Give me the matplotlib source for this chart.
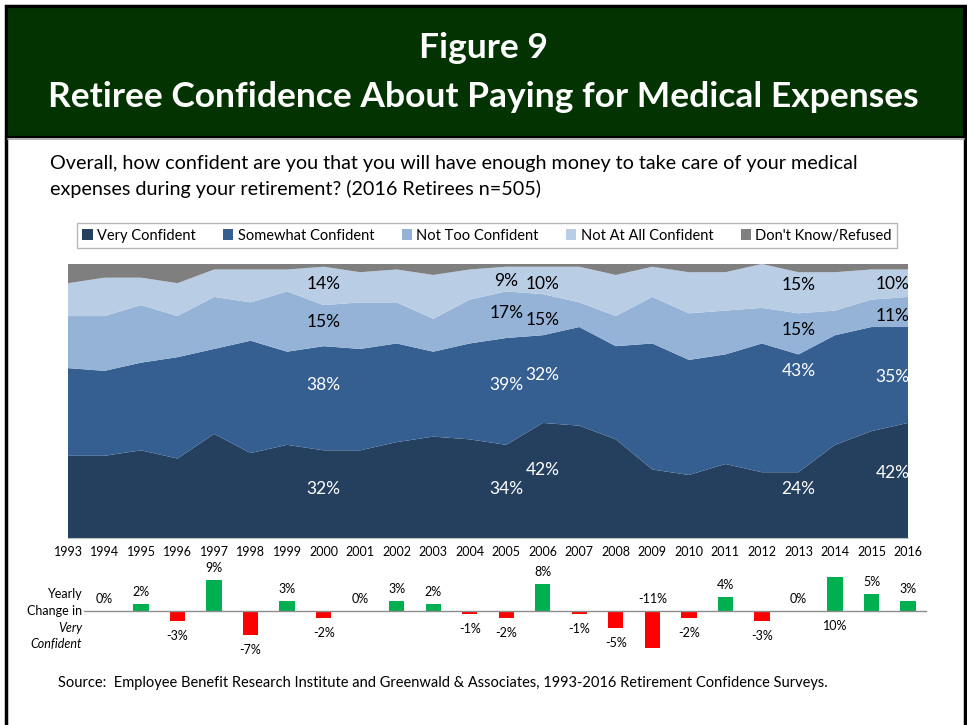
import matplotlib.pyplot as plt
import numpy as np
from matplotlib.patches import Rectangle, Patch

plt.rcParams['font.family'] = ['Lato', 'DejaVu Sans']

years = list(range(1993, 2017))
very = [30, 30, 32, 29, 38, 31, 34, 32, 32, 35, 37, 36, 34, 42, 41, 36, 25, 23, 27, 24, 24, 34, 39, 42]
somewhat = [32, 31, 32, 37, 31, 41, 34, 38, 37, 36, 31, 35, 39, 32, 36, 34, 46, 42, 40, 47, 43, 40, 38, 35]
not_too = [19, 20, 21, 15, 19, 14, 22, 15, 17, 15, 12, 16, 17, 15, 9, 11, 17, 17, 16, 13, 15, 9, 10, 11]
not_at_all = [12, 14, 10, 12, 10, 12, 8, 14, 11, 12, 16, 11, 9, 10, 13, 15, 11, 15, 14, 16, 15, 14, 11, 10]
dont_know = [7, 5, 5, 7, 2, 2, 2, 1, 3, 2, 4, 2, 1, 1, 1, 4, 1, 3, 3, 0, 3, 3, 2, 2]
series_names = ['Very Confident', 'Somewhat Confident', 'Not Too Confident',
                'Not At All Confident', "Don't Know/Refused"]
labeled_years = [2000, 2005, 2006, 2013, 2016]

change_years = years[1:]
change = [0, 2, -3, 9, -7, 3, -2, 0, 3, 2, -1, -2, 8, -1, -5, -11, -2, 4, -3, 0, 10, 5, 3]
flipped_labels = [2009, 2014]  # labels drawn on the other side of the axis

colors = ['#253F5F', '#355F91', '#95B3D7', '#B9CDE5', '#7F7F7F']
W, H = 967, 725


def fx(x):
    return x / W


def fy(y):
    return 1 - y / H


fig = plt.figure(figsize=(W / 100, H / 100), dpi=100)
fig.patch.set_facecolor('white')

# frame and title banner
fig.add_artist(Rectangle((fx(6), fy(740)), fx(959), 734 / H, transform=fig.transFigure,
                         facecolor='none', edgecolor='black', linewidth=2.5))
fig.add_artist(Rectangle((fx(7), fy(137)), fx(957), 130 / H, transform=fig.transFigure,
                         facecolor='#033300', edgecolor='black', linewidth=1.5))
fig.add_artist(plt.Line2D([fx(8), fx(964)], [fy(139), fy(139)], transform=fig.transFigure,
                          color='#A6A6A6', linewidth=1.2))
fig.text(0.5, fy(48), 'Figure 9', color='white', fontsize=25.5, fontweight='bold',
         ha='center', va='center')
fig.text(0.5, fy(97), 'Retiree Confidence About Paying for Medical Expenses', color='white',
         fontsize=25.5, fontweight='bold', ha='center', va='center')

fig.text(fx(50), fy(164), 'Overall, how confident are you that you will have enough money to take care of your medical',
         fontsize=14.2, ha='left', va='center')
fig.text(fx(50), fy(189), 'expenses during your retirement? (2016 Retirees n=505)',
         fontsize=14.2, ha='left', va='center')

# stacked area
ax = fig.add_axes([fx(68), fy(538), (908 - 68) / W, (538 - 264) / H])
stack = [very, somewhat, not_too, not_at_all, dont_know]
ax.stackplot(years, *stack, colors=colors, linewidth=0)
ax.set_xlim(1993, 2016)
ax.set_ylim(0, 100)
for s in ['top', 'right', 'left']:
    ax.spines[s].set_visible(False)
ax.spines['bottom'].set_color('#BFBFBF')
ax.set_yticks([])
ax.set_xticks(years)
ax.set_xticklabels([str(y) for y in years], fontsize=9)
ax.tick_params(axis='x', length=0, pad=6)

label_y = {
    2000: [18, 55.8, 78.8, 92.6],
    2005: [18, 56, 82, 93.8],
    2006: [24.7, 59.4, 79.5, 92.6],
    2013: [18, 61, 76, 92.3],
    2016: [23.6, 58.7, 81, 92.6],
}
for yr in labeled_years:
    i = years.index(yr)
    for k in range(4):
        val = stack[k][i]
        ha = 'right' if yr == years[-1] else 'center'
        xpos = yr + 0.05 if yr == years[-1] else yr
        ax.text(xpos, label_y[yr][k], f'{val}%', fontsize=12.5, ha=ha, va='center',
                color='white' if k < 2 else 'black')

# legend
handles = [Patch(facecolor=c, edgecolor='none') for c in colors]
leg = fig.legend(handles, series_names, loc='lower left', ncol=5, mode='expand',
                 bbox_to_anchor=(fx(70), fy(255), (904 - 70) / W, 26 / H),
                 fontsize=10.5, frameon=True, fancybox=False, handlelength=0.7,
                 handleheight=0.7, handletextpad=0.3, borderpad=0.35, columnspacing=1.5)
leg.get_frame().set_edgecolor('#A6A6A6')
leg.get_frame().set_linewidth(1)

# yearly change bars
ax2 = fig.add_axes([fx(68), fy(660), (908 - 68) / W, (660 - 560) / H])
ax2.set_xlim(1993, 2016)
ax2.set_ylim(-(660 - 611) / 3.4, (611 - 560) / 3.4)
ax2.axis('off')
bar_colors = ['#00B050' if v > 0 else '#FF0000' for v in change]
ax2.bar(change_years, change, width=0.42, color=bar_colors, clip_on=False)
ax2.plot([1993.45, 2016.5], [0, 0], color='#8C8C8C', linewidth=1, clip_on=False)
for yr, v in zip(change_years, change):
    up = v >= 0
    if yr in flipped_labels:
        up = not up
        base = 0
    else:
        base = v
    off = 12 if up else -15
    ax2.annotate(f'{v}%', (yr, base), xytext=(0, off), textcoords='offset pixels',
                 ha='center', va='center', fontsize=9, annotation_clip=False)

fig.text(fx(82), fy(594), 'Yearly', fontsize=9, ha='right', va='center')
fig.text(fx(82), fy(611), 'Change in', fontsize=9, ha='right', va='center')
fig.text(fx(82), fy(628), 'Very', fontsize=9, ha='right', va='center', style='italic')
fig.text(fx(82), fy(644), 'Confident', fontsize=9, ha='right', va='center', style='italic')

fig.text(fx(58), fy(683), 'Source:  Employee Benefit Research Institute and Greenwald & Associates, '
         '1993-2016 Retirement Confidence Surveys.', fontsize=10.5, ha='left', va='center')

fig.savefig('out.png', dpi=100)
